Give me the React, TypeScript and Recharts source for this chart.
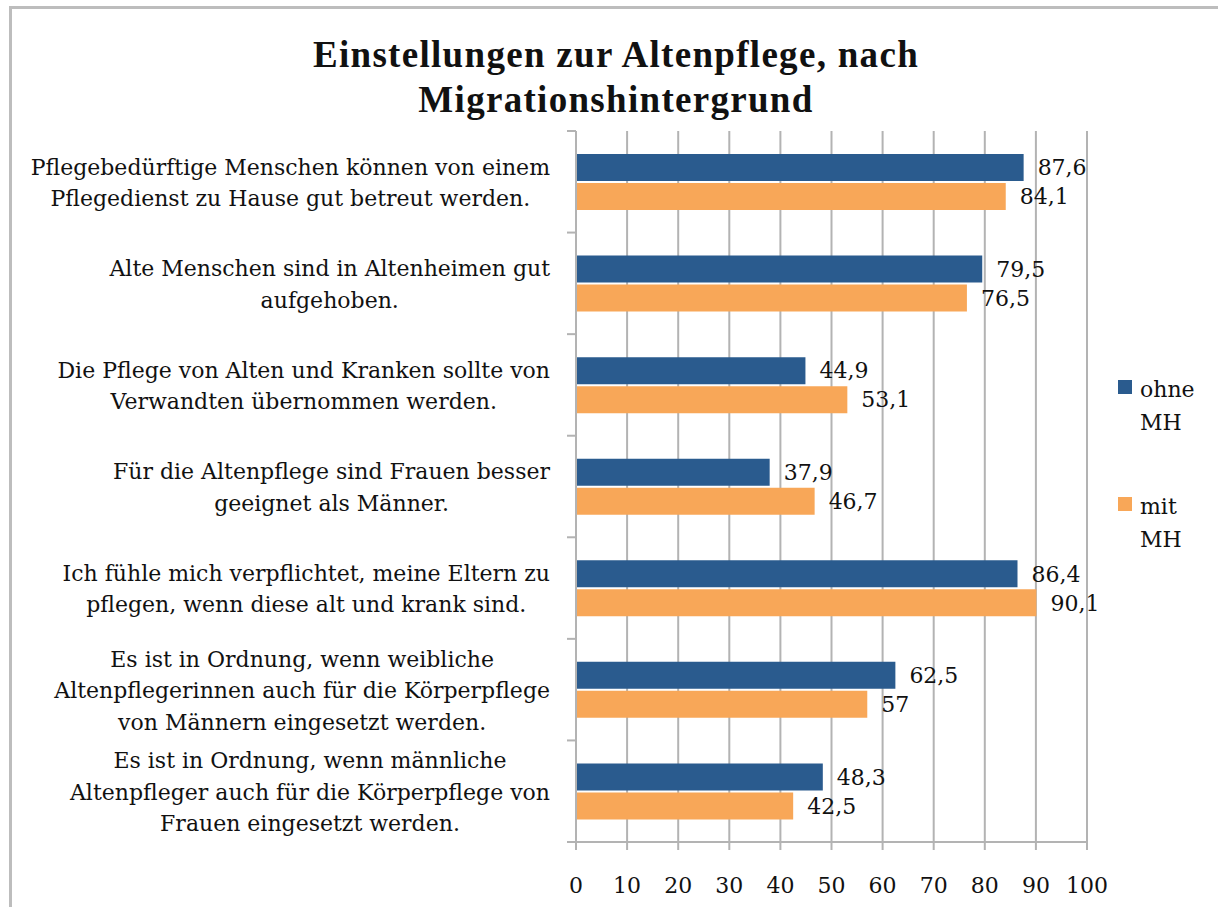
import React from "react";
import { BarChart, Bar, XAxis, YAxis, CartesianGrid, LabelList, Legend } from "recharts";

const CATEGORIES = [
  "Pflegebedürftige Menschen können von einem\nPflegedienst zu Hause gut betreut werden.",
  "Alte Menschen sind in Altenheimen gut\naufgehoben.",
  "Die Pflege von Alten und Kranken sollte von\nVerwandten übernommen werden.",
  "Für die Altenpflege sind Frauen besser\ngeeignet als Männer.",
  "Ich fühle mich verpflichtet, meine Eltern zu\npflegen, wenn diese alt und krank sind.",
  "Es ist in Ordnung, wenn weibliche\nAltenpflegerinnen auch für die Körperpflege\nvon Männern eingesetzt werden.",
  "Es ist in Ordnung, wenn männliche\nAltenpfleger auch für die Körperpflege von\nFrauen eingesetzt werden.",
];
const OHNE_MH = [87.6, 79.5, 44.9, 37.9, 86.4, 62.5, 48.3];
const MIT_MH = [84.1, 76.5, 53.1, 46.7, 90.1, 57, 42.5];
const X_TICKS = [0, 10, 20, 30, 40, 50, 60, 70, 80, 90, 100];
const SERIES_ORDER = ["ohne", "mit"];

const data = CATEGORIES.map((c, i) => ({ cat: c, ohne: OHNE_MH[i], mit: MIT_MH[i] }));

const BLUE = "#2A5B8E";
const ORANGE = "#F8A758";
const GRID = "#B3B3B3";
const FONT = '"DejaVu Serif", serif';
const FS = 22;

// chart frame
const W = 1218;
const H = 907;
const TOP = 131;
const X_AXIS_H = 65;
const PLOT_H = H - TOP - X_AXIS_H;
const BAND = PLOT_H / CATEGORIES.length;

let ctx: CanvasRenderingContext2D | null = null;
const textWidth = (s: string) => {
  if (!ctx) {
    ctx = document.createElement("canvas").getContext("2d");
  }
  if (!ctx) return s.length * FS * 0.55;
  ctx.font = `${FS}px "DejaVu Serif"`;
  return ctx.measureText(s).width;
};

const CategoryTick = (props: any) => {
  const { x, y, payload, index } = props;
  const lines = String(payload.value).split("\n");
  const maxW = Math.max(...lines.map(textWidth));
  const right = x - 26;
  const cx = right - maxW / 2;
  const lh = 31.5;
  const y0 = y - ((lines.length - 1) * lh) / 2 + 1;
  const top = y - BAND / 2;
  return (
    <g>
      <line x1={x - 9} x2={x} y1={top} y2={top} stroke={GRID} strokeWidth={2} />
      {index === CATEGORIES.length - 1 && (
        <line x1={x - 9} x2={x} y1={top + BAND} y2={top + BAND} stroke={GRID} strokeWidth={2} />
      )}
      {lines.map((l, i) => (
        <text
          key={i}
          x={cx}
          y={y0 + i * lh}
          textAnchor="middle"
          dominantBaseline="central"
          fontFamily={FONT}
          fontSize={FS}
          fill="#111"
        >
          {l}
        </text>
      ))}
    </g>
  );
};

const fmt = (v: any) => String(v).replace(".", ",");

const renderLegend = (props: any) => {
  const payload = [...(props.payload || [])].sort(
    (a: any, b: any) => SERIES_ORDER.indexOf(a.dataKey) - SERIES_ORDER.indexOf(b.dataKey)
  );
  return (
    <div style={{ fontFamily: FONT, fontSize: FS, color: "#111" }}>
      {payload.map((p: any, i: number) => (
        <div key={i} style={{ display: "flex", marginBottom: 51 }}>
          <div style={{ width: 14, height: 14, background: p.color, marginTop: 7, marginRight: 8, flexShrink: 0 }} />
          <div style={{ lineHeight: "33px" }}>
            {String(p.value)
              .split(" ")
              .map((l: string, j: number) => (
                <div key={j}>{l}</div>
              ))}
          </div>
        </div>
      ))}
    </div>
  );
};

export default function App() {
  return (
    <div style={{ position: "absolute", left: 0, top: 0, width: W, height: H, background: "#fff", overflow: "hidden" }}>
      <div
        style={{
          position: "absolute",
          left: 9,
          top: 6,
          width: W + 50,
          height: H + 50,
          borderLeft: "3px solid #BDBDBD",
          borderTop: "3px solid #BDBDBD",
        }}
      />
      <div
        style={{
          position: "absolute",
          left: 116,
          width: 1000,
          top: 32,
          textAlign: "center",
          fontFamily: '"Liberation Serif", serif',
          fontWeight: "bold",
          fontSize: 37,
          letterSpacing: 1.3,
          lineHeight: "45px",
          color: "#111",
        }}
      >
        Einstellungen zur Altenpflege, nach
        <br />
        Migrationshintergrund
      </div>
      <div style={{ position: "absolute", left: 0, top: 0 }}>
        <BarChart
          width={W}
          height={H}
          data={data}
          layout="vertical"
          margin={{ top: TOP, right: 131, bottom: 0, left: 0 }}
          barSize={27}
          barGap={2}
        >
          <CartesianGrid horizontal={false} stroke={GRID} strokeWidth={2} />
          <XAxis
            type="number"
            domain={[0, 100]}
            ticks={X_TICKS}
            interval={0}
            height={X_AXIS_H}
            axisLine={{ stroke: GRID, strokeWidth: 2 }}
            tickLine={{ stroke: GRID, strokeWidth: 2 }}
            tickSize={8}
            tickMargin={27}
            tick={{ fontFamily: FONT, fontSize: FS, fill: "#111" }}
          />
          <YAxis
            type="category"
            dataKey="cat"
            width={576}
            interval={0}
            axisLine={{ stroke: GRID, strokeWidth: 2 }}
            tickLine={false}
            tickSize={0}
            tickMargin={0}
            tick={<CategoryTick />}
          />
          <Legend
            layout="vertical"
            align="center"
            verticalAlign="middle"
            content={renderLegend}
            wrapperStyle={{ left: 1118, top: 373, width: 100 }}
          />
          <Bar dataKey="ohne" name="ohne MH" fill={BLUE} isAnimationActive={false}>
            <LabelList
              dataKey="ohne"
              position="right"
              offset={14}
              formatter={fmt}
              style={{ fontFamily: FONT, fontSize: FS, fill: "#111" }}
            />
          </Bar>
          <Bar dataKey="mit" name="mit MH" fill={ORANGE} isAnimationActive={false}>
            <LabelList
              dataKey="mit"
              position="right"
              offset={14}
              formatter={fmt}
              style={{ fontFamily: FONT, fontSize: FS, fill: "#111" }}
            />
          </Bar>
        </BarChart>
      </div>
    </div>
  );
}
